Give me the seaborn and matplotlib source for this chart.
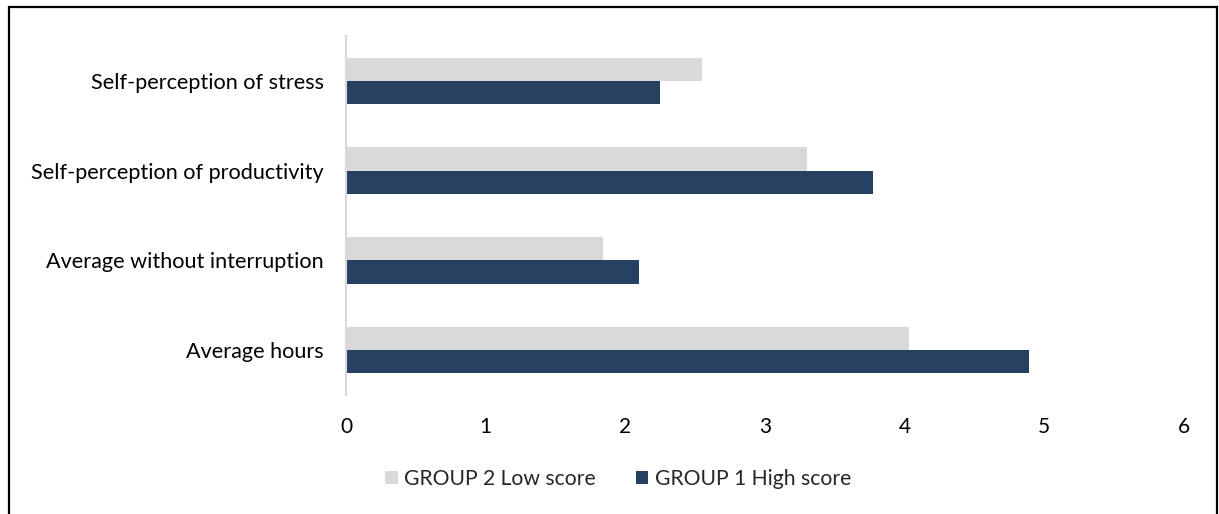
import matplotlib
matplotlib.use("Agg")
import matplotlib.pyplot as plt
from matplotlib.patches import Rectangle
import seaborn as sns
import pandas as pd

categories = [
    "Self-perception of stress",
    "Self-perception of productivity",
    "Average without interruption",
    "Average hours",
]
groups = ["GROUP 2 Low score", "GROUP 1 High score"]
group2_low = [2.55, 3.30, 1.84, 4.03]
group1_high = [2.25, 3.77, 2.10, 4.89]
x_ticks = [0, 1, 2, 3, 4, 5, 6]

colors = {"GROUP 2 Low score": "#D9D9D9", "GROUP 1 High score": "#264061"}

df = pd.DataFrame({
    "category": categories * 2,
    "group": [groups[0]] * 4 + [groups[1]] * 4,
    "value": group2_low + group1_high,
})

sns.set_theme(style="white")
plt.rcParams["font.family"] = ["Lato", "DejaVu Sans"]

fig = plt.figure(figsize=(12.19, 5.14), dpi=100)
ax = fig.add_axes([346 / 1219, 1 - 395 / 514, (1184 - 346) / 1219, (395 - 36) / 514])

sns.barplot(
    data=df, x="value", y="category", hue="group", order=categories,
    hue_order=groups, palette=colors, orient="h", width=0.52, gap=0,
    ax=ax, saturation=1, edgecolor="none",
)

ax.set_xlim(0, 6)
ax.set_ylim(3.5, -0.5)
ax.set_xticks(x_ticks)
ax.set_xticklabels([str(t) for t in x_ticks])
ax.set_xlabel("")
ax.set_ylabel("")
ax.tick_params(axis="x", length=0, pad=16, labelsize=15, colors="#000000")
ax.tick_params(axis="y", length=0, pad=16, labelsize=15.6, colors="#000000")
for side in ["top", "right", "bottom"]:
    ax.spines[side].set_visible(False)
ax.spines["left"].set_color("#D9D9D9")
ax.spines["left"].set_linewidth(1.5)

handles, labels = ax.get_legend_handles_labels()
ax.get_legend().remove()
fig.legend(
    handles, labels, ncol=2, loc="center",
    bbox_to_anchor=(618 / 1219, 1 - 479 / 514), frameon=False,
    handlelength=0.6, handleheight=0.6, handletextpad=0.3,
    columnspacing=1.9, fontsize=15.2,
)

# outer frame around the whole chart
fig.patches.append(Rectangle(
    (9 / 1219, -0.05), (1217 - 9) / 1219, 1.05 - 7 / 514,
    transform=fig.transFigure, fill=False, edgecolor="#000000",
    linewidth=1.6, zorder=10,
))

fig.savefig("out.png", dpi=100)
